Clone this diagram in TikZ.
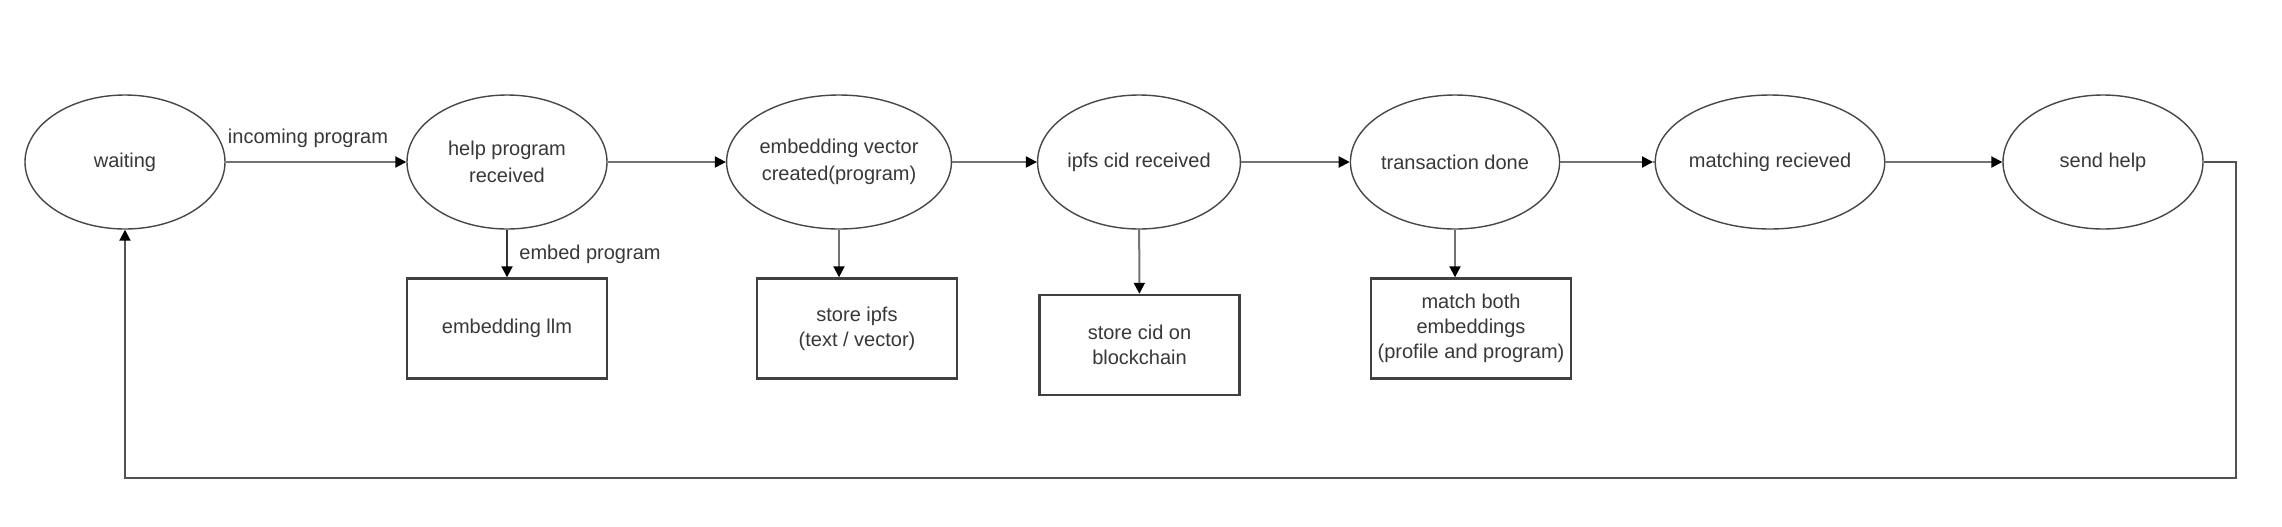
\documentclass[tikz,border=0pt]{standalone}
\usepackage{fontspec}
\setmainfont{Liberation Sans}
\usetikzlibrary{shapes.geometric,arrows.meta}
\tikzset{
  state/.style={ellipse, draw=black!72, line width=0.7pt, minimum width=100pt, minimum height=67pt, inner sep=0pt, align=center, text=black!78, font=\fontsize{10}{13.5}\selectfont},
  action/.style={rectangle, draw=black!75, line width=1.2pt, minimum width=100pt, minimum height=50pt, inner sep=0pt, align=center, text=black!78, font=\fontsize{10}{12.5}\selectfont},
  conn/.style={draw=black!55, line width=1pt},
  arr/.style={conn, -{Triangle[length=5.5pt,width=5.5pt,color=black]}},
  lbl/.style={inner sep=0pt, text=black!78, font=\fontsize{10}{12}\selectfont}
}
\begin{document}
\begin{tikzpicture}[x=0.5pt,y=-0.5pt]
\useasboundingbox (0,0) rectangle (2282,526);
\fill[white] (0,0) rectangle (2282,526);
% states
\node[state] (w)  at (125,162)  {waiting};
\node[state] (hp) at (507,162)  {help program\\received};
\node[state] (ev) at (839,162)  {embedding vector\\created(program)};
\node[state] (ic) at (1139,162) {ipfs cid received};
\node[state] (td) at (1455,162) {transaction done};
\node[state] (mr) at (1770,162) {matching recieved};
\node[state] (sh) at (2103,162) {send help};
% actions
\node[action] (llm)   at (507,328.5)  {embedding llm};
\node[action] (ipfs)  at (857,328.5)  {store ipfs\\(text / vector)};
\node[action] (cid)   at (1139.5,345) {store cid on\\blockchain};
\node[action] (match) at (1471,328.5) {match both\\embeddings\\(profile and program)};
% labels
\node[lbl] (l1) at (308,138) {incoming program};
\node[lbl] (l2) at (590,254) {embed program};
% horizontal flow
\draw[arr] (w) -- (hp);
\draw[arr] (hp) -- (ev);
\draw[arr] (ev) -- (ic);
\draw[arr] (ic) -- (td);
\coordinate (tm) at (1653,162);
\draw[arr] (td) -- (tm);
\draw[conn] (tm) -- (mr);
\draw[arr] (mr) -- (sh);
% downward actions
\draw[arr, draw=black!80] (hp) -- (llm);
\draw[arr] (ev.south) -- (ev.south |- ipfs.north);
\draw[arr] (ic) -- (cid);
\draw[arr] (td.south) -- (td.south |- match.north);
% feedback loop
\coordinate (c1) at (2236,162);
\coordinate (c2) at (2236,478);
\coordinate (c3) at (125,478);
\draw[arr, draw=black!68] (sh) -- (c1) -- (c2) -- (c3) -- (w);
\end{tikzpicture}
\end{document}
